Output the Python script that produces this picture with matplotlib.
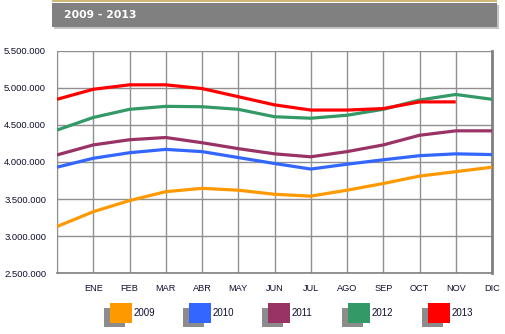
import matplotlib
matplotlib.use("Agg")
import matplotlib.pyplot as plt
from matplotlib.patches import Rectangle

plt.rcParams['font.family'] = ['Liberation Sans', 'DejaVu Sans']

months = ["", "ENE", "FEB", "MAR", "ABR", "MAY", "JUN", "JUL", "AGO", "SEP", "OCT", "NOV", "DIC"]
years = ["2009", "2010", "2011", "2012", "2013"]
colors = ["#FF9900", "#3366FF", "#993366", "#339966", "#FF0000"]

s2009 = [3130000, 3330000, 3480000, 3600000, 3645000, 3620000, 3565000, 3540000, 3620000, 3710000, 3810000, 3870000, 3930000]
s2010 = [3930000, 4050000, 4125000, 4170000, 4140000, 4060000, 3980000, 3905000, 3970000, 4030000, 4085000, 4110000, 4100000]
s2011 = [4095000, 4230000, 4300000, 4330000, 4260000, 4180000, 4110000, 4070000, 4140000, 4230000, 4360000, 4420000, 4420000]
s2012 = [4430000, 4600000, 4710000, 4750000, 4745000, 4710000, 4610000, 4590000, 4630000, 4710000, 4835000, 4910000, 4845000]
s2013 = [4845000, 4980000, 5040000, 5040000, 4990000, 4880000, 4770000, 4700000, 4700000, 4720000, 4810000, 4810000]
series = [s2009, s2010, s2011, s2012, s2013]

yticks = [2500000, 3000000, 3500000, 4000000, 4500000, 5000000, 5500000]
ylabels = ["2.500.000", "3.000.000", "3.500.000", "4.000.000", "4.500.000", "5.000.000", "5.500.000"]

W, H = 505, 334
fig = plt.figure(figsize=(W / 100, H / 100), dpi=100)

def rect(x0, y0, x1, y1, color, z=1):
    fig.patches.append(Rectangle((x0 / W, 1 - y1 / H), (x1 - x0) / W, (y1 - y0) / H,
                                 transform=fig.transFigure, facecolor=color, edgecolor="none", zorder=z))

# title bar
rect(54, 5, 499, 29, "#C4C4C4", 0)
rect(52, 3, 497, 27, "#808080", 1)
rect(52, 0, 497, 2, "#CDB878", 1)
fig.text(64 / W, 1 - 14.5 / H, "2009 - 2013", color="white", fontsize=7.8, fontweight="bold",
         family="DejaVu Sans", va="center", ha="left", zorder=2)

ax = fig.add_axes([57 / W, 1 - 273.3 / H, (492 - 57) / W, (273.3 - 50.7) / H])
for s, c in zip(series, colors):
    ax.plot(range(len(s)), s, color=c, lw=2.3, solid_capstyle="butt", zorder=3)

ax.set_xlim(0, 12)
ax.set_ylim(2500000, 5500000)
ax.set_xticks(range(13))
ax.set_xticklabels(months, fontsize=6.6, color="#101030")
ax.set_yticks(yticks)
ax.set_yticklabels(ylabels, fontsize=6.8, color="#101030")
ax.tick_params(axis="x", length=0, pad=8)
ax.tick_params(axis="y", length=0, pad=7.8)
ax.grid(True, color="#909090", lw=1)
ax.spines["top"].set_visible(False)
ax.spines["left"].set_color("#909090")
ax.spines["bottom"].set_color("#808080")
ax.spines["bottom"].set_linewidth(1.2)
ax.spines["right"].set_color("#808080")
ax.spines["right"].set_linewidth(2)

# legend
box_x = [110, 189, 268, 348, 428]
for x, c, y in zip(box_x, colors, years):
    rect(x - 6, 308, x + 14.5, 326.7, "#8C8C8C", 1)
    rect(x, 302.7, x + 21.7, 322.7, c, 2)
    fig.text((x + 23.5) / W, 1 - 313 / H, y, fontsize=7, color="#101030", va="center", ha="left")

fig.savefig("out.png", dpi=100)
